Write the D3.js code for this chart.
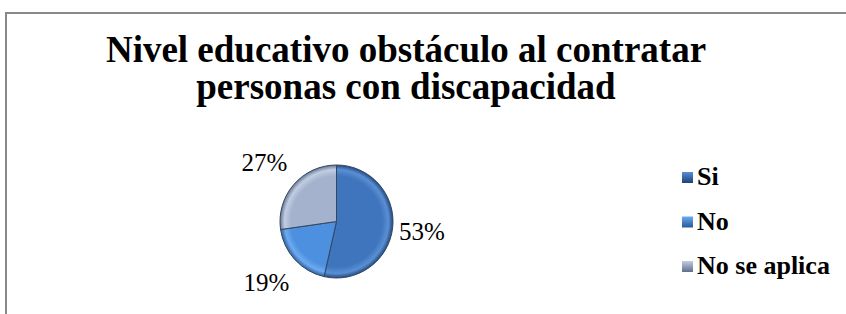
<!DOCTYPE html>
<html>
<head>
<meta charset="utf-8">
<script src="https://cdn.jsdelivr.net/npm/d3@7"></script>
<style>
  body { margin: 0; background: #fff; }
  svg { display: block; }
  text { font-family: "Times New Roman", "Liberation Serif", "DejaVu Serif", serif; }
</style>
</head>
<body>
<div id="chart"></div>
<script>
// data
var categories = ["Si", "No", "No se aplica"];
var values = [53, 19, 27];
var labels = ["53%", "19%", "27%"];
var titleLines = ["Nivel educativo obstáculo al contratar", "personas con discapacidad"];

var width = 846, height = 314;

var svg = d3.select("#chart").append("svg")
    .attr("width", width)
    .attr("height", height);

// frame (only top + left visible, rest runs off the window)
svg.append("rect")
    .attr("x", 6).attr("y", 13)
    .attr("width", 900).attr("height", 400)
    .attr("fill", "none")
    .attr("stroke", "#898989")
    .attr("stroke-width", 2);

// title
svg.append("text")
    .attr("x", 406)
    .attr("y", 62)
    .attr("text-anchor", "middle")
    .style("font-weight", "bold")
    .style("font-size", "37px")
    .selectAll("tspan")
    .data(titleLines)
    .enter().append("tspan")
    .attr("x", 406)
    .attr("dy", function(d, i){ return i === 0 ? 0 : 37; })
    .text(function(d){ return d; });

// gradients for the bevelled look
var palette = [
    { mid: "#3f75bd", edge: "#1c4178", light: "#5a8fd3" },
    { mid: "#4d90df", edge: "#265996", light: "#6eaaf0" },
    { mid: "#a4b2cd", edge: "#5f6e8c", light: "#c2cde2" }
];
var defs = svg.append("defs");
palette.forEach(function(c, i){
    var g = defs.append("radialGradient")
        .attr("id", "grad" + i)
        .attr("gradientUnits", "userSpaceOnUse")
        .attr("cx", 0).attr("cy", 0).attr("r", 57);
    g.append("stop").attr("offset", "0%").attr("stop-color", c.mid);
    g.append("stop").attr("offset", "80%").attr("stop-color", c.mid);
    g.append("stop").attr("offset", "91%").attr("stop-color", c.light);
    g.append("stop").attr("offset", "100%").attr("stop-color", c.edge);

    var lg = defs.append("linearGradient")
        .attr("id", "leg" + i)
        .attr("x1", 0).attr("y1", 0).attr("x2", 0).attr("y2", 1);
    lg.append("stop").attr("offset", "0%").attr("stop-color", c.light);
    lg.append("stop").attr("offset", "100%").attr("stop-color", c.edge);
});

// pie
var cx = 336.5, cy = 221.5, radius = 56.5;

var pie = d3.pie().sort(null).value(function(d){ return d; });
var arc = d3.arc().innerRadius(0).outerRadius(radius);
var labelArc = d3.arc().innerRadius(90).outerRadius(90);

var g = svg.append("g")
    .attr("transform", "translate(" + cx + "," + cy + ")");

var arcs = pie(values);

g.selectAll(".slice")
    .data(arcs)
    .enter().append("path")
    .attr("class", "slice")
    .attr("d", arc)
    .attr("fill", function(d, i){ return "url(#grad" + i + ")"; })
    .attr("stroke", "#33475f")
    .attr("stroke-width", 1);

// data labels, nudged a little left like excel's best fit
g.selectAll(".lbl")
    .data(arcs)
    .enter().append("text")
    .attr("class", "lbl")
    .attr("transform", function(d){
        var c = labelArc.centroid(d);
        return "translate(" + (c[0] - 4) + "," + c[1] + ")";
    })
    .attr("text-anchor", "middle")
    .attr("dy", "0.35em")
    .style("font-size", "25px")
    .style("fill", "#000")
    .text(function(d, i){ return labels[i]; });

// legend
var ly = d3.scalePoint().domain(categories).range([185, 274]);

var leg = svg.selectAll(".leg")
    .data(categories)
    .enter().append("g")
    .attr("class", "leg")
    .attr("transform", function(d){ return "translate(682," + ly(d) + ")"; });

leg.append("rect")
    .attr("x", 0).attr("y", -13)
    .attr("width", 11).attr("height", 11)
    .attr("fill", function(d, i){ return "url(#leg" + i + ")"; });

leg.append("text")
    .attr("x", 15)
    .attr("y", 0)
    .style("font-weight", "bold")
    .style("font-size", "26px")
    .text(function(d){ return d; });
</script>
</body>
</html>
